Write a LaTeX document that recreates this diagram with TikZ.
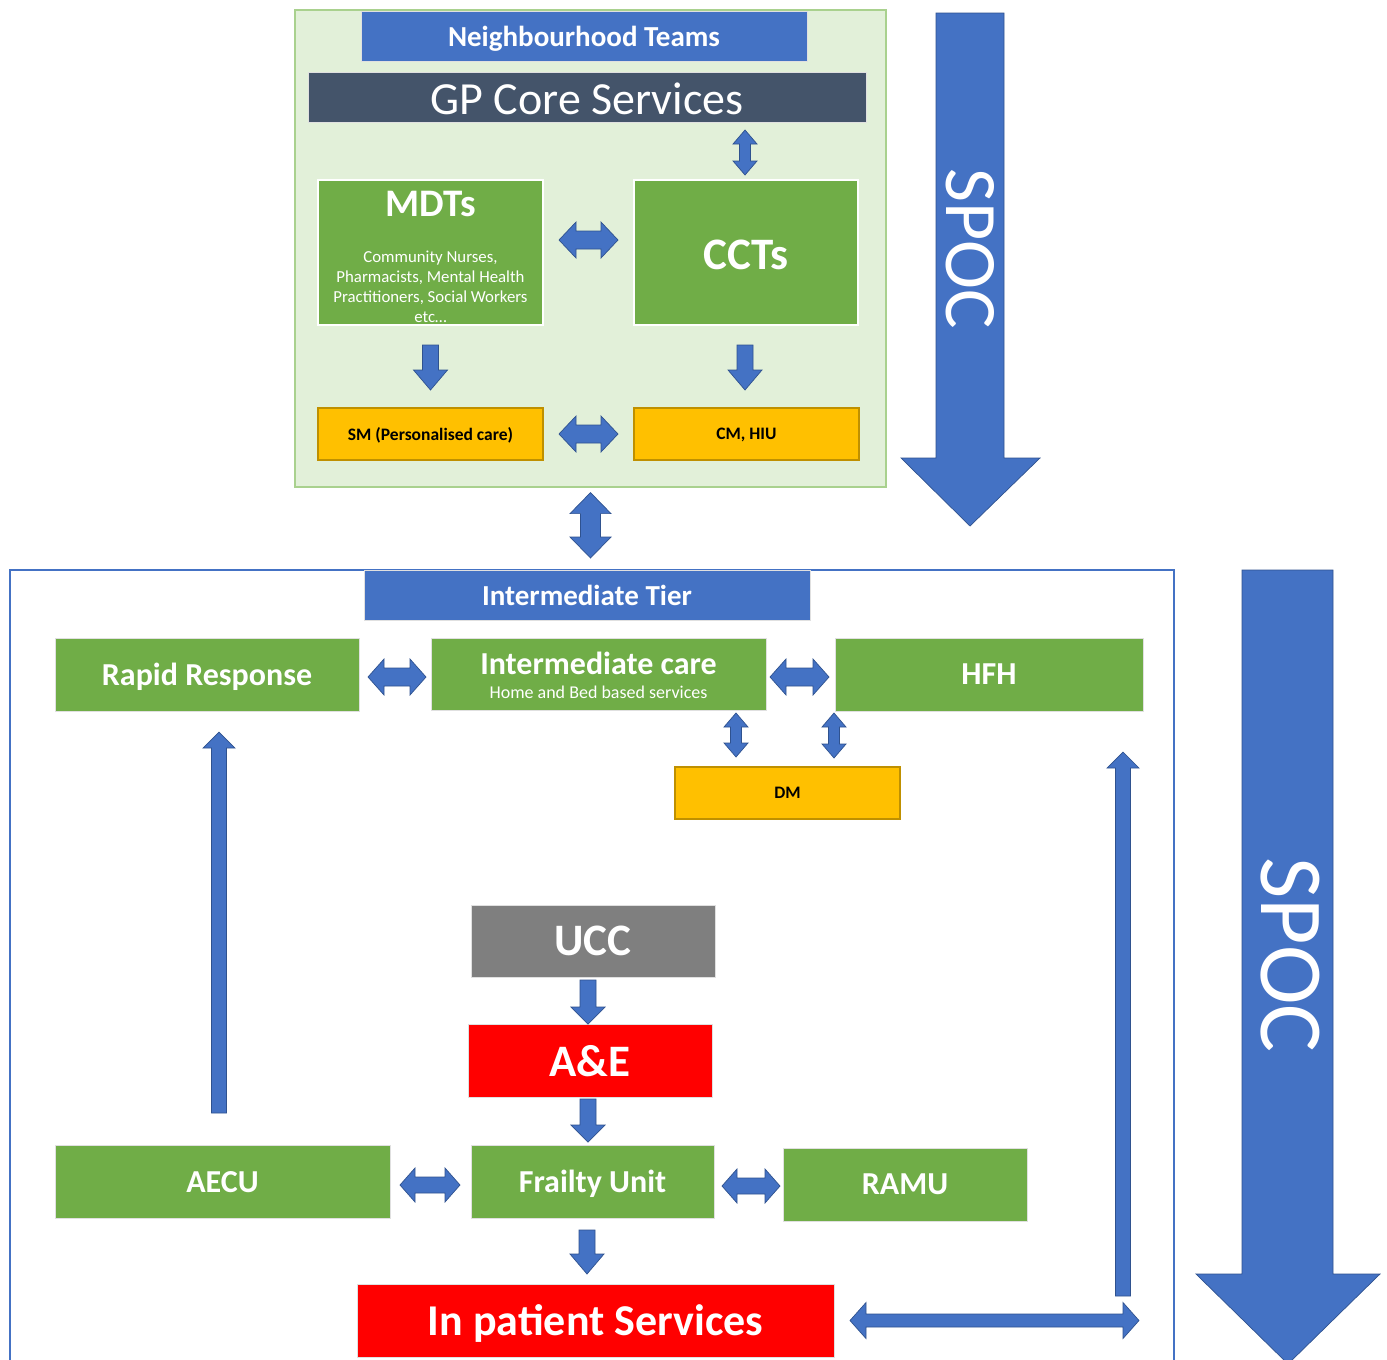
\documentclass[tikz,border=0pt]{standalone}
\usepackage{fontspec}
\setmainfont{Carlito}
\usetikzlibrary{calc}
\definecolor{cblue}{HTML}{4472C4}
\definecolor{cslate}{HTML}{44546A}
\definecolor{cgreen}{HTML}{70AD47}
\definecolor{corange}{HTML}{FFC000}
\definecolor{corangeb}{HTML}{BF9000}
\definecolor{cpanel}{HTML}{E2F0D9}
\definecolor{cpanelb}{HTML}{A9D18E}
\definecolor{cred}{HTML}{FF0000}
\definecolor{cgray}{HTML}{7F7F7F}
\definecolor{carrowb}{HTML}{2F528F}
\newcommand\fsz[2]{\fontsize{#1}{#2}\selectfont}
% single block arrow: #1 tail, #2 tip, #3 half shaft, #4 half head, #5 head length
\newcommand\blockarrowS[5]{%
  \coordinate (saA) at #1; \coordinate (saB) at #2;
  \coordinate (saN) at ($(saB)!#5!(saA)$);
  \path[blk] ($(saA)!#3!90:(saB)$) -- ($(saN)!#3!-90:(saA)$) -- ($(saN)!#4!-90:(saA)$) -- (saB)
    -- ($(saN)!#4!90:(saA)$) -- ($(saN)!#3!90:(saA)$) -- ($(saA)!#3!-90:(saB)$) -- cycle;}
% double block arrow
\newcommand\blockarrowD[5]{%
  \coordinate (daA) at #1; \coordinate (daB) at #2;
  \coordinate (daM) at ($(daA)!#5!(daB)$);
  \coordinate (daN) at ($(daB)!#5!(daA)$);
  \path[blk] (daA) -- ($(daM)!#4!90:(daB)$) -- ($(daM)!#3!90:(daB)$) -- ($(daN)!#3!-90:(daA)$)
    -- ($(daN)!#4!-90:(daA)$) -- (daB) -- ($(daN)!#4!90:(daA)$) -- ($(daN)!#3!90:(daA)$)
    -- ($(daM)!#3!-90:(daB)$) -- ($(daM)!#4!-90:(daB)$) -- cycle;}
\begin{document}
\begin{tikzpicture}[x=1pt,y=-1pt,
  box/.style={rectangle, inner sep=0pt, outer sep=0pt, draw=white!88!black, line width=1pt, text=white, text depth=0pt},
  gbox/.style={box, fill=cgreen},
  bbox/.style={box, fill=cblue},
  rbox/.style={box, fill=cred},
  graybox/.style={box, fill=cgray},
  obox/.style={rectangle, inner sep=0pt, outer sep=0pt, fill=corange, draw=corangeb, line width=1.2pt, text=black, text depth=0pt},
  blk/.style={fill=cblue, draw=carrowb, line width=0.7pt},
  lbl/.style={inner sep=0pt, text=white}]
\fill[white] (0,0) rectangle (1387,1360);
\useasboundingbox (0,0) rectangle (1387,1360);

% ---------- top panel ----------
\node[rectangle, fill=cpanel, draw=cpanelb, line width=1.2pt, minimum width=591pt, minimum height=477pt, inner sep=0pt] (panel) at (590.5,248.5) {};
\node[bbox, minimum width=446pt, minimum height=50pt, font=\fsz{29}{34}\bfseries] (nbt) at (584,36) {Neighbourhood Teams};
\node[box, fill=cslate, minimum width=558pt, minimum height=50pt] (gp) at (587,97) {};
\node[lbl, font=\fsz{46}{52}] (gpT) at ($(gp.center)+(0,2)$) {GP Core Services};
\node[gbox, draw=white, line width=1.5pt, minimum width=225pt, minimum height=145pt] (mdt) at (430.5,252.5) {};
\node[lbl, font=\fsz{39}{44}\bfseries] (mdtT) at ($(mdt.north)+(0,24)$) {MDTs};
\node[lbl, align=center, font=\fsz{16.8}{20}] (mdtL) at ($(mdt.north)+(0,107)$) {Community Nurses,\\Pharmacists, Mental Health\\Practitioners, Social Workers\\etc…};
\node[gbox, draw=white, line width=1.5pt, minimum width=224pt, minimum height=145pt] (cct) at (746,252.5) {};
\node[lbl, font=\fsz{45}{50}\bfseries] (cctT) at ($(cct.center)+(0,2.5)$) {CCTs};
\node[obox, minimum width=225pt, minimum height=52pt, font=\fsz{17.5}{21}\bfseries] (sm) at (430.5,434) {SM (Personalised care)};
\node[obox, minimum width=225pt, minimum height=52pt, font=\fsz{17.5}{21}\bfseries] (cm) at (746.5,434) {CM, HIU};

\blockarrowD{($(cct.north)+(-1,-50)$)}{($(cct.north)+(-1,-5)$)}{5.5pt}{12pt}{14pt}
\blockarrowD{($(mdt.east)+(16,-12.5)$)}{($(cct.west)+(-16,-12.5)$)}{9pt}{18pt}{17pt}
\blockarrowD{($(sm.east)+(16,0)$)}{($(cm.west)+(-16,0)$)}{9pt}{18pt}{17pt}
\blockarrowS{($(mdt.south)+(0,20)$)}{($(sm.north)+(0,-18)$)}{8pt}{17pt}{20pt}
\blockarrowS{($(cct.south)+(-1,20)$)}{($(cm.north)+(-1.5,-18)$)}{8pt}{17pt}{20pt}

% ---------- SPOC 1 ----------
\path[blk] (936,13) -- (1004,13) -- (1004,458) -- (1040,458) -- (970,526) -- (901,458) -- (936,458) -- cycle;
\node[lbl, rotate=-90, font=\fsz{74}{80}] (spoc1) at (970,249) {SPOC};

% ---------- intermediate tier ----------
\draw[cblue, line width=1.5pt] (10,1370) -- (10,570) -- (1174,570) -- (1174,1370);
\node[bbox, minimum width=446pt, minimum height=50pt, font=\fsz{29}{34}\bfseries] (it) at (587,595) {Intermediate Tier};
\blockarrowD{($(panel.south)+(0,5)$)}{($(it.north)+(3.5,-12)$)}{10pt}{20.5pt}{21pt}

\node[gbox, minimum width=304pt, minimum height=73pt, font=\fsz{32}{36}\bfseries] (rr) at (207,674.5) {Rapid Response};
\node[gbox, minimum width=335pt, minimum height=72pt] (ic) at (598.5,674) {};
\node[lbl, font=\fsz{32}{36}\bfseries] (icT) at ($(ic.north)+(0,25)$) {Intermediate care};
\node[lbl, font=\fsz{18}{21}] (icS) at ($(ic.north)+(0,54)$) {Home and Bed based services};
\node[gbox, minimum width=308pt, minimum height=73pt, font=\fsz{32}{36}\bfseries] (hfh) at (989,674.5) {HFH};
\node[obox, minimum width=225pt, minimum height=52pt, font=\fsz{17.5}{21}\bfseries] (dm) at (787.5,793) {DM};

\blockarrowD{($(rr.east)+(9,2.5)$)}{($(ic.west)+(-5,3)$)}{9pt}{18pt}{16pt}
\blockarrowD{($(ic.east)+(4,3)$)}{($(hfh.west)+(-6,2.5)$)}{9pt}{18pt}{16pt}
\blockarrowD{($(ic.south)+(137.5,3)$)}{($(dm.north)+(-51.5,-10)$)}{5.5pt}{12pt}{14pt}
\blockarrowD{($(hfh.south)+(-155,2)$)}{($(dm.north)+(46.5,-9)$)}{5.5pt}{12pt}{14pt}

\node[graybox, minimum width=244pt, minimum height=72pt, font=\fsz{45}{50}\bfseries] (ucc) at (593,941) {UCC};
\node[rbox, minimum width=244pt, minimum height=73pt, font=\fsz{45}{50}\bfseries] (ae) at (590,1060.5) {A\&E};
\node[gbox, minimum width=335pt, minimum height=73pt, font=\fsz{32}{36}\bfseries] (aecu) at (222.5,1181.5) {AECU};
\node[gbox, minimum width=243pt, minimum height=73pt, font=\fsz{32}{36}\bfseries] (fu) at (592.5,1181.5) {Frailty Unit};
\node[gbox, minimum width=244pt, minimum height=73pt, font=\fsz{32}{36}\bfseries] (ramu) at (905,1184.5) {RAMU};
\node[rbox, minimum width=477pt, minimum height=73pt, font=\fsz{44}{50}\bfseries] (ip) at (595.5,1320.5) {In patient Services};
\coordinate (ipr) at ($(ip.east)+(305,0)$);

\blockarrowS{($(aecu.north)+(-3.5,-32)$)}{($(rr.south)+(12,21)$)}{7.5pt}{16pt}{16pt}
\blockarrowS{($(ip.east)+(289,-24.5)$)}{($(hfh.south)+(134,41)$)}{7.5pt}{16pt}{16pt}
\blockarrowS{($(ucc.south)+(-5,3)$)}{($(ae.north)+(-2,0)$)}{8pt}{17pt}{17pt}
\blockarrowS{($(ae.south)+(-2,2)$)}{($(fu.north)+(-4.5,-3)$)}{8pt}{17pt}{17pt}
\blockarrowD{($(aecu.east)+(10,3.5)$)}{($(fu.west)+(-11,3.5)$)}{8pt}{17pt}{15pt}
\blockarrowD{($(fu.east)+(8,4.5)$)}{($(ramu.west)+(-3,1.5)$)}{8pt}{17pt}{15pt}
\blockarrowS{($(fu.south)+(-5.5,12)$)}{($(ip.north)+(-8.5,-10)$)}{8pt}{17pt}{20pt}
\blockarrowD{($(ip.east)+(16,0)$)}{(ipr)}{6.5pt}{18pt}{16pt}

% ---------- SPOC 2 ----------
\path[blk] (1242,570) -- (1333,570) -- (1333,1274) -- (1380,1274) -- (1288,1364) -- (1196,1274) -- (1242,1274) -- cycle;
\node[lbl, rotate=-90, font=\fsz{90}{96}] (spoc2) at (1290,955) {SPOC};
\end{tikzpicture}
\end{document}
